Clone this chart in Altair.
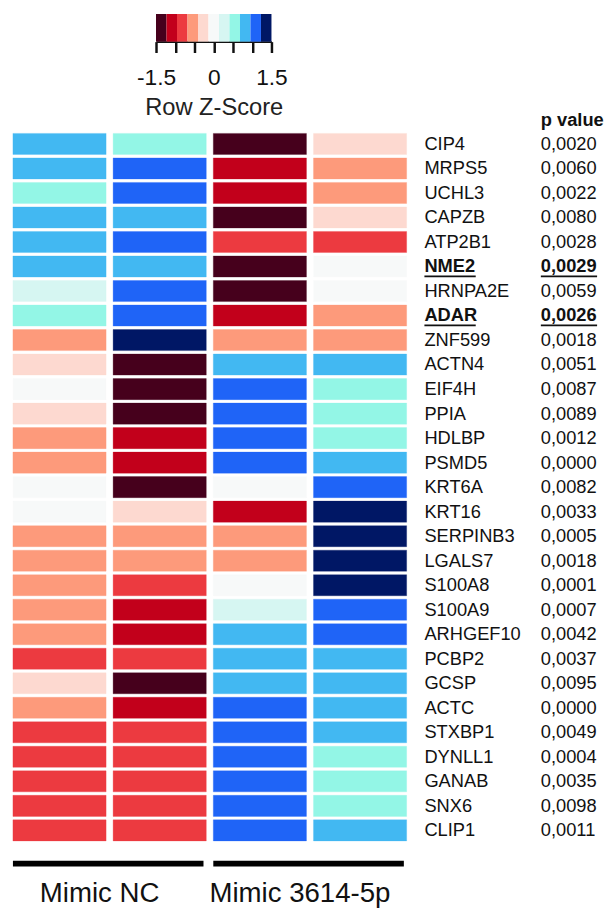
import altair as alt
import pandas as pd

genes = ["CIP4", "MRPS5", "UCHL3", "CAPZB", "ATP2B1", "NME2", "HRNPA2E", "ADAR",
         "ZNF599", "ACTN4", "EIF4H", "PPIA", "HDLBP", "PSMD5", "KRT6A", "KRT16",
         "SERPINB3", "LGALS7", "S100A8", "S100A9", "ARHGEF10", "PCBP2", "GCSP",
         "ACTC", "STXBP1", "DYNLL1", "GANAB", "SNX6", "CLIP1"]
p_values = ["0,0020", "0,0060", "0,0022", "0,0080", "0,0028", "0,0029", "0,0059",
            "0,0026", "0,0018", "0,0051", "0,0087", "0,0089", "0,0012", "0,0000",
            "0,0082", "0,0033", "0,0005", "0,0018", "0,0001", "0,0007", "0,0042",
            "0,0037", "0,0095", "0,0000", "0,0049", "0,0004", "0,0035", "0,0098",
            "0,0011"]
highlight = ["NME2", "ADAR"]

samples = ["NC_1", "NC_2", "3614_1", "3614_2"]
z_nc_1 = [0.8, 0.8, 0.55, 0.8, 0.8, 0.8, 0.25, 0.55, -0.55, -0.25, 0, -0.25, -0.55,
          -0.55, 0, 0, -0.55, -0.55, -0.55, -0.55, -0.55, -0.8, -0.25, -0.55, -0.8,
          -0.8, -0.8, -0.8, -0.8]
z_nc_2 = [0.55, 1.1, 1.1, 0.8, 1.1, 0.8, 1.1, 1.1, 1.4, -1.4, -1.4, -1.4, -1.1, -1.1,
          -1.4, -0.25, -0.55, -0.55, -0.8, -1.1, -1.1, -0.8, -1.4, -1.1, -0.8, -0.8,
          -0.8, -0.8, -0.8]
z_mim_1 = [-1.4, -1.1, -1.1, -1.4, -0.8, -1.4, -1.4, -1.1, -0.55, 0.8, 1.1, 1.1, 1.1,
           1.1, 0, -1.1, -0.55, -0.55, 0, 0.25, 0.8, 0.8, 0.8, 1.1, 1.1, 1.1, 1.1,
           1.1, 1.1]
z_mim_2 = [-0.25, -0.55, -0.55, -0.25, -0.8, 0, 0, -0.55, -0.55, 0.8, 0.55, 0.55,
           0.55, 0.8, 1.1, 1.4, 1.4, 1.4, 1.4, 1.1, 1.1, 0.8, 0.8, 0.8, 0.8, 0.55,
           0.55, 0.55, 0.8]

key_colors = ["#46001c", "#c2001b", "#ec3a40", "#fd9a7b", "#fdd9d0", "#f7f9f9",
              "#d6f6f2", "#93f6e6", "#42b8f2", "#1f64f7", "#001765"]
key_lo = [-1.5, -1.2273, -0.9545, -0.6818, -0.4091, -0.1364, 0.1364, 0.4091,
          0.6818, 0.9545, 1.2273]
key_hi = [-1.2273, -0.9545, -0.6818, -0.4091, -0.1364, 0.1364, 0.4091, 0.6818,
          0.9545, 1.2273, 1.5]
key_ticks = [-1.5, -1.0, -0.5, 0.0, 0.5, 1.0, 1.5]

groups = ["Mimic NC", "Mimic 3614-5p"]
group_first = ["NC_1", "3614_1"]
group_last = ["NC_2", "3614_2"]

FONT = "Liberation Sans"
W = 399
H = 717
LAB = 18.5
GX = 417
PX = 535

rows = []
for s, col in zip(samples, [z_nc_1, z_nc_2, z_mim_1, z_mim_2]):
    for g, z in zip(genes, col):
        rows.append({"sample": s, "gene": g, "z": z})
heat_df = pd.DataFrame(rows)
lab_df = pd.DataFrame({"gene": genes, "p": p_values,
                       "hl": [g in highlight for g in genes]})
key_df = pd.DataFrame({"lo": key_lo, "hi": key_hi, "c": key_colors})
grp_df = pd.DataFrame({"group": groups, "first": group_first, "last": group_last})

xsc = alt.Scale(domain=samples, paddingInner=0.07, paddingOuter=0)
ysc = alt.Scale(domain=genes, paddingInner=0.14, paddingOuter=0)
zsc = alt.Scale(type="threshold", domain=key_hi[:-1], range=key_colors)

# colour key
key = alt.Chart(key_df).mark_rect().encode(
    x=alt.X("lo:Q", scale=alt.Scale(domain=[-1.5, 1.5], range=[145, 262], nice=False),
            axis=alt.Axis(values=key_ticks, grid=False,
                          labelExpr="datum.value == -1.5 ? '-1.5' : datum.value == 0 ? '0' : datum.value == 1.5 ? '1.5' : ''",
                          labelAlign="center",
                          labelOverlap=False, labelFontSize=23, labelFont=FONT,
                          labelColor="#111", labelPadding=14,
                          tickColor="#111", tickWidth=2.5, tickSize=11,
                          domainColor="#111", domainWidth=2,
                          title="Row Z-Score", titleFont=FONT, titleFontSize=24,
                          titleFontWeight="normal", titleColor="#222", titlePadding=7)),
    x2="hi:Q",
    y=alt.value(0), y2=alt.value(28),
    color=alt.Color("c:N", scale=None),
).properties(width=W, height=28)

heat = alt.Chart(heat_df).mark_rect(strokeWidth=0.6, strokeOpacity=0.5).encode(
    x=alt.X("sample:N", scale=xsc, axis=None),
    y=alt.Y("gene:N", scale=ysc, axis=None),
    color=alt.Color("z:Q", scale=zsc, legend=None),
    stroke=alt.Stroke("z:Q", scale=zsc, legend=None),
)

def label_layer(field, xpix, bold):
    base = alt.Chart(lab_df).transform_filter(
        "datum.hl" if bold else "!datum.hl")
    return base.mark_text(align="left", baseline="middle", fontSize=LAB, font=FONT,
                          color="#111", fontWeight="bold" if bold else "normal"
                          ).encode(x=alt.value(xpix),
                                   y=alt.Y("gene:N", scale=ysc, axis=None),
                                   text=f"{field}:N")

gene_txt = label_layer("gene", GX, False)
gene_bold = label_layer("gene", GX, True)
p_txt = label_layer("p", PX, False)
p_bold = label_layer("p", PX, True)

header = alt.Chart(pd.DataFrame({"t": ["p value"]})).mark_text(
    align="left", baseline="middle", fontSize=LAB, font=FONT, fontWeight="bold",
    color="#111").encode(x=alt.value(PX), y=alt.value(-13), text="t:N")
ul_gene = alt.Chart(lab_df).transform_filter("datum.hl").mark_rule(
    color="#111", strokeWidth=1.8, yOffset=10).encode(
    x=alt.value(GX), x2=alt.value(GX + 52), y=alt.Y("gene:N", scale=ysc, axis=None))
ul_p = alt.Chart(lab_df).transform_filter("datum.hl").mark_rule(
    color="#111", strokeWidth=1.8, yOffset=10).encode(
    x=alt.value(PX), x2=alt.value(PX + 57), y=alt.Y("gene:N", scale=ysc, axis=None))

bars = alt.Chart(grp_df).mark_rule(color="black", strokeWidth=6).encode(
    x=alt.X("first:N", scale=xsc, axis=None, bandPosition=0),
    x2=alt.X2("last:N", bandPosition=0.97),
    y=alt.value(H + 23))
grp_txt = alt.Chart(grp_df).mark_text(fontSize=28, font=FONT, color="#111",
                                      baseline="middle").encode(
    x=alt.X("first:N", scale=xsc, axis=None, bandPosition=0.93),
    y=alt.value(H + 54), text="group:N")

main = alt.layer(heat, gene_txt, gene_bold, p_txt, p_bold, header, ul_gene, ul_p,
                 bars, grp_txt).properties(width=W, height=H)

chart = alt.vconcat(key, main, spacing=-8).properties(
    padding={"left": 2, "top": 0, "right": 0, "bottom": 0}
).configure_view(stroke=None)

chart.save("out.html", embed_options={"renderer": "svg", "actions": False})
